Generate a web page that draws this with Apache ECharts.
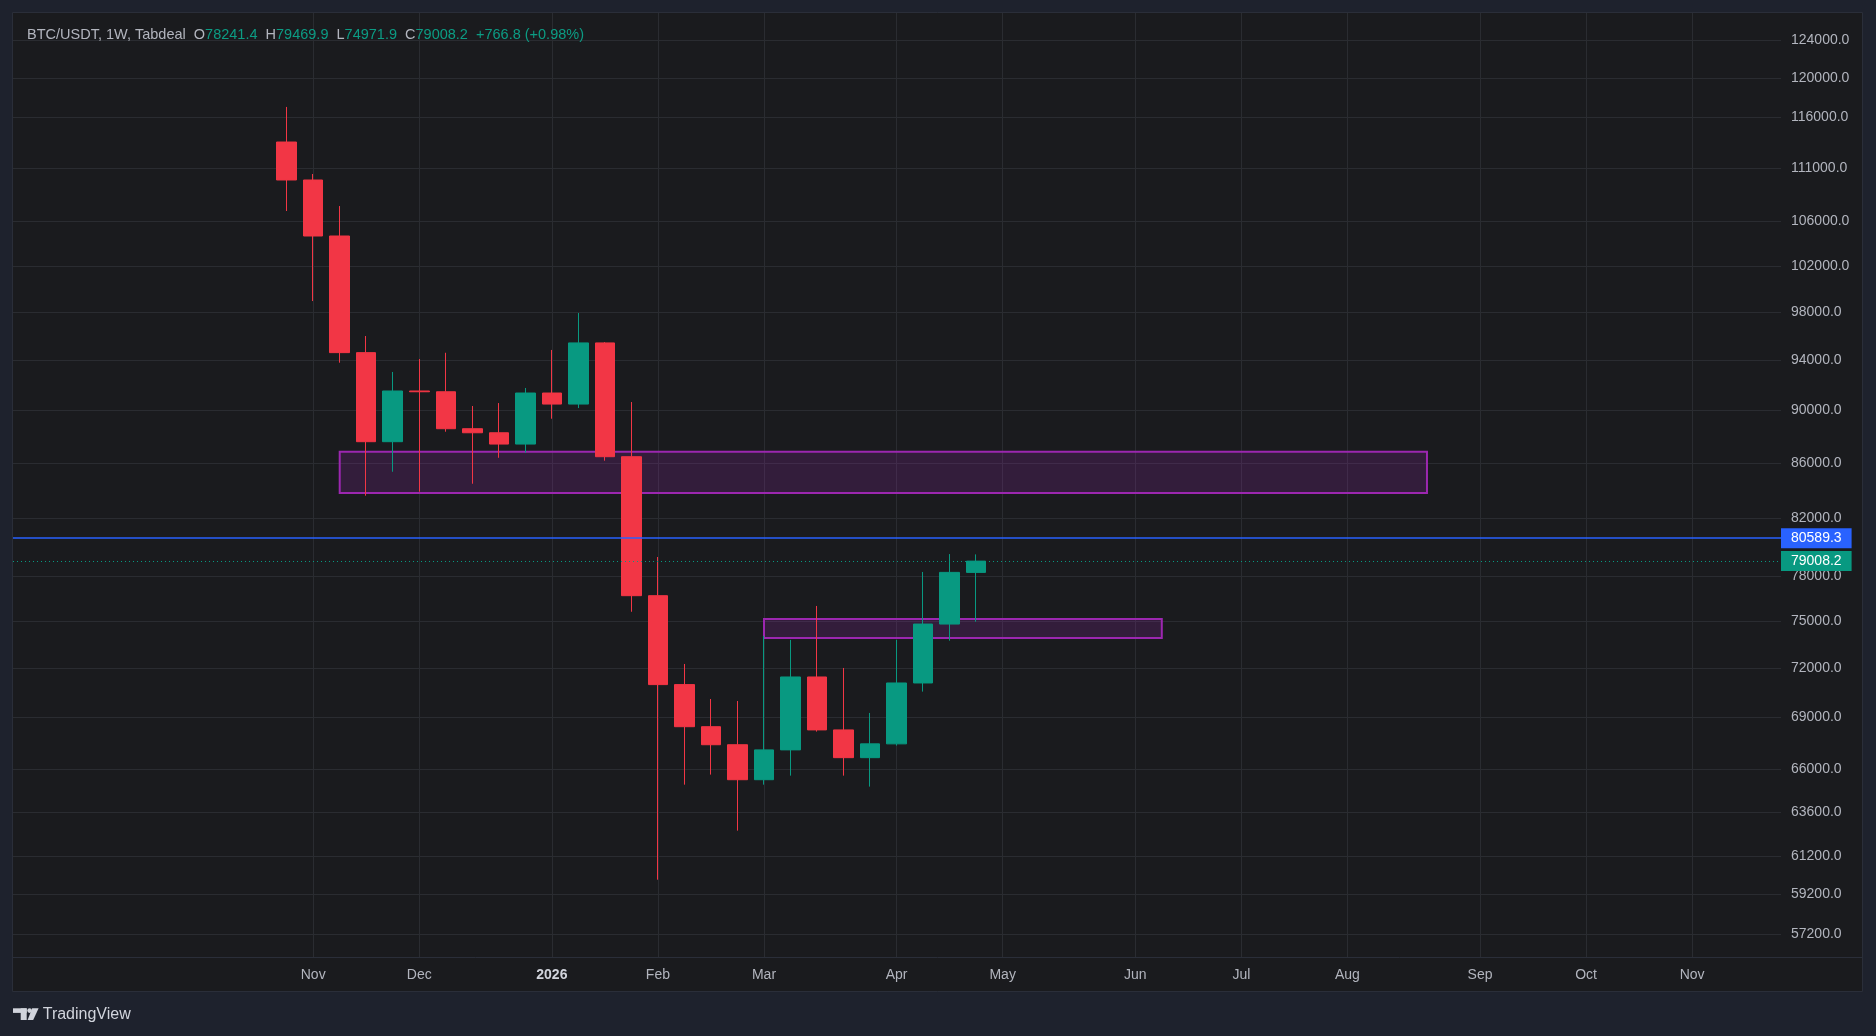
<!DOCTYPE html>
<html>
<head>
<meta charset="utf-8">
<script src="https://cdn.jsdelivr.net/npm/echarts@6/dist/echarts.min.js"></script>
<style>
html,body{margin:0;padding:0;background:#1e222d;}
#c{width:1876px;height:1036px;}
</style>
</head>
<body>
<div id="c"></div>
<script>
// ---- data ----
const weeks = ['2025-10-27','2025-11-03','2025-11-10','2025-11-17','2025-11-24','2025-12-01','2025-12-08','2025-12-15','2025-12-22','2025-12-29',
  '2026-01-05','2026-01-12','2026-01-19','2026-01-26','2026-02-02','2026-02-09','2026-02-16','2026-02-23','2026-03-02','2026-03-09',
  '2026-03-16','2026-03-23','2026-03-30','2026-04-06','2026-04-13','2026-04-20','2026-04-27'];
const opens  = [113550,109880,104680,94630,87610,91540,91480,88600,88290,87430,91380,90510,95430,86480,76680,71000,68460,67400,65390,67100,71470,68270,66650,67450,71100,74820,78241.4];
const highs  = [117050,110450,107430,96000,93060,94110,94620,90360,90590,91780,94850,97930,95500,90670,79290,72280,70120,70000,74050,73800,76000,72030,69280,73800,78270,79490,79469.9];
const lows   = [106970,98950,93810,83610,85360,83900,88370,84480,86400,86780,89370,90200,86180,75620,59970,65110,65680,62570,65110,65620,68170,65620,65000,67350,70570,73750,74971.9];
const closes = [109880,104680,94630,87610,91540,91480,88600,88290,87430,91380,90510,95430,86480,76680,71000,68460,67400,65390,67100,71470,68270,66650,67450,71100,74820,78241.4,79008.2];

const priceTicks = [124000,120000,116000,111000,106000,102000,98000,94000,90000,86000,82000,78000,75000,72000,69000,66000,63600,61200,59200,57200];
const timeTickIndex  = [1,5,10,14,18,23,27,32,36,40,45,49,53];
const timeTickLabels = ['Nov','Dec','2026','Feb','Mar','Apr','May','Jun','Jul','Aug','Sep','Oct','Nov'];

const zoneStart  = [2, 18];
const zoneEnd    = [43, 33];
const zoneTop    = [86855, 75148];
const zoneBottom = [83802, 73921];

const levelPrice = 80589.3;

// ---- build ----
const last = weeks.length - 1;
const change = closes[last] - opens[last];
const pct = change / opens[last] * 100;
const sign = change >= 0 ? '+' : '';

const candleData = weeks.map((w, i) => [i, opens[i], closes[i], lows[i], highs[i]]);

const UP = '#089981', DOWN = '#f23645';
const GRIDC = '#2a2c31';
const TXT = '#b2b5be';
const FONT = 'Liberation Sans, Arial, sans-serif';
const TFS = 14.5;

const chart = echarts.init(document.getElementById('c'), null, {renderer: 'canvas'});

const option = {
  animation: false,
  backgroundColor: '#1e222d',
  textStyle: {fontFamily: FONT},
  title: {
    left: 22, top: 22,
    text: '{n|BTC/USDT, 1W, Tabdeal}  {k|O}{v|' + opens[last].toFixed(1) + '}  {k|H}{v|' + highs[last].toFixed(1) +
          '}  {k|L}{v|' + lows[last].toFixed(1) + '}  {k|C}{v|' + closes[last].toFixed(1) + '}  {v|' +
          sign + change.toFixed(1) + ' (' + sign + pct.toFixed(2) + '%)}',
    textStyle: {
      fontFamily: FONT, fontSize: TFS, fontWeight: 'normal', color: TXT,
      rich: {
        n: {color: TXT, fontSize: TFS, fontWeight: 'normal', fontFamily: FONT},
        k: {color: TXT, fontSize: TFS, fontWeight: 'normal', fontFamily: FONT},
        v: {color: '#0c9c84', fontSize: TFS, fontWeight: 'normal', fontFamily: FONT}
      }
    }
  },
  grid: {left: 13, right: 95, top: 13, bottom: 79, containLabel: false, outerBoundsMode: 'none'},
  xAxis: {
    type: 'value',
    min: -10.32, max: 56.35,
    axisLine: {show: false},
    axisTick: {show: false, customValues: timeTickIndex},
    splitLine: {show: true, lineStyle: {color: GRIDC, width: 1}},
    axisLabel: {
      customValues: timeTickIndex,
      color: TXT, fontSize: 14, fontFamily: FONT, margin: 11,
      formatter: function (v) {
        const k = timeTickIndex.indexOf(Math.round(v));
        if (k < 0) return '';
        const t = timeTickLabels[k];
        return /^\d{4}$/.test(t) ? '{b|' + t + '}' : t;
      },
      rich: {b: {fontWeight: 'bold', color: '#d1d4dc', fontSize: 14, fontFamily: FONT}}
    }
  },
  yAxis: {
    type: 'log',
    position: 'right',
    min: 56089, max: 126964,
    axisLine: {show: false},
    axisTick: {show: false, customValues: priceTicks},
    splitLine: {show: true, lineStyle: {color: GRIDC, width: 1}},
    axisLabel: {
      customValues: priceTicks,
      color: TXT, fontSize: 14, fontFamily: FONT, margin: 10, align: 'left',
      formatter: v => Number(v).toFixed(1)
    }
  },
  graphic: {
    elements: [
      {type: 'rect', z: -10, silent: true,
       shape: {x: 12.5, y: 12.5, width: 1850, height: 979},
       style: {fill: '#1a1b1e', stroke: '#2a2e39', lineWidth: 1}},
      {type: 'line', z: -9, silent: true,
       shape: {x1: 13, y1: 957.5, x2: 1862, y2: 957.5},
       style: {stroke: '#2a2e39', lineWidth: 1}},
      // TradingView logo
      {type: 'rect', silent: true, shape: {x: 13, y: 1008.3, width: 13.7, height: 4.6}, style: {fill: '#d1d4dc'}},
      {type: 'rect', silent: true, shape: {x: 20.7, y: 1008.3, width: 6, height: 11.7}, style: {fill: '#d1d4dc'}},
      {type: 'circle', silent: true, shape: {cx: 29.6, cy: 1010.6, r: 2.3}, style: {fill: '#d1d4dc'}},
      {type: 'polygon', silent: true, shape: {points: [[32.2, 1008.3], [38.6, 1008.3], [33.2, 1020], [27.6, 1020]]}, style: {fill: '#d1d4dc'}},
      {type: 'text', silent: true, x: 42.7, y: 1014.5,
       style: {text: 'TradingView', fill: '#d1d4dc', font: '500 16px ' + FONT, textVerticalAlign: 'middle', verticalAlign: 'middle'}}
    ]
  },
  series: [{
    type: 'candlestick',
    data: candleData,
    encode: {x: 0, y: [1, 2, 3, 4]},
    barWidth: 20,
    itemStyle: {color: UP, color0: DOWN, borderColor: UP, borderColor0: DOWN, borderWidth: 1},
    markArea: {
      silent: true,
      itemStyle: {color: 'rgba(156,39,176,0.2)', borderColor: '#9c27b0', borderWidth: 2},
      label: {show: false},
      data: zoneStart.map((s, i) => [{xAxis: s, yAxis: zoneTop[i]}, {xAxis: zoneEnd[i], yAxis: zoneBottom[i]}])
    },
    markLine: {
      silent: true,
      symbol: ['none', 'none'],
      data: [
        {yAxis: levelPrice,
         lineStyle: {color: '#2962ff', width: 1.5, type: 'solid'},
         label: {show: true, position: 'end', distance: 0, formatter: levelPrice.toFixed(1),
                 backgroundColor: '#2962ff', color: '#ffffff', fontSize: 14, fontFamily: FONT,
                 padding: [3, 10, 3, 10]}},
        {yAxis: closes[last],
         lineStyle: {color: UP, width: 1, type: [1, 3]},
         label: {show: true, position: 'end', distance: 0, formatter: closes[last].toFixed(1),
                 backgroundColor: UP, color: '#ffffff', fontSize: 14, fontFamily: FONT,
                 padding: [3, 10, 3, 10]}}
      ]
    }
  }]
};
chart.setOption(option);
</script>
</body>
</html>
